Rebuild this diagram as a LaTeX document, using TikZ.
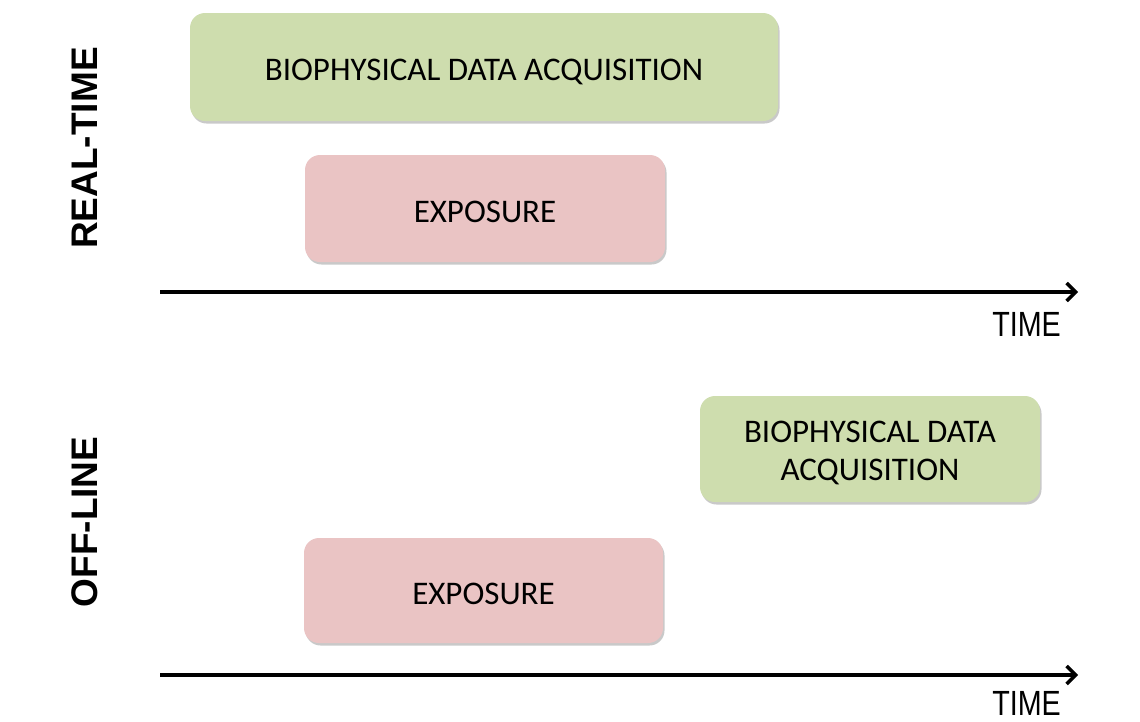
\documentclass[tikz,border=0pt]{standalone}
\usepackage{fontspec}
\setmainfont{Carlito}
\newfontfamily\arialfont{Liberation Sans}
\usetikzlibrary{shadows,arrows.meta}
\definecolor{boxgreen}{HTML}{CEDDAE}
\definecolor{boxpink}{HTML}{EAC4C4}
\begin{document}
\begin{tikzpicture}[x=1pt,y=-1pt,
  boxbase/.style={rounded corners=15pt, draw=none, inner sep=0pt,
    drop shadow={shadow xshift=1.5pt, shadow yshift=-2.5pt, opacity=0.3, fill=black!70}},
  greenbox/.style={boxbase, fill=boxgreen},
  pinkbox/.style={boxbase, fill=boxpink},
  boxtext/.style={inner sep=0pt, align=center, font=\fontsize{33}{38}\selectfont},
  timearrow/.style={line width=3.5pt, -{Straight Barb[length=9pt,width=18pt]}},
  timelabel/.style={anchor=base east, inner sep=0pt, text depth=0pt, font=\arialfont\fontsize{35}{40}\selectfont},
  sidelabel/.style={rotate=90, inner sep=0pt, font=\arialfont\bfseries\fontsize{37}{40}\selectfont}]
\useasboundingbox (0,0) rectangle (1140,721);
% real-time
\node[greenbox, minimum width=588pt, minimum height=108pt] (bio1) at (484,67) {};
\node[boxtext] (bio1t) at ([yshift=-4.5pt]bio1.center) {BIOPHYSICAL DATA ACQUISITION};
\node[pinkbox, minimum width=360pt, minimum height=107pt] (exp1) at (485,208.5) {};
\node[boxtext] (exp1t) at ([yshift=-3pt]exp1.center) {EXPOSURE};
\coordinate (a1s) at (160,292);
\coordinate (a1e) at (1078,292);
\draw[timearrow] (a1s) -- (a1e);
\node[timelabel] (t1) at (1061,336) {\scalebox{0.82}[1]{TIME}};
\node[sidelabel] (rt) at (85,148) {REAL-TIME};
% off-line
\node[greenbox, minimum width=340pt, minimum height=106pt] (bio2) at (870,449) {};
\node[boxtext] (bio2t) at ([yshift=-4pt]bio2.center) {BIOPHYSICAL DATA\\ACQUISITION};
\node[pinkbox, minimum width=359pt, minimum height=105pt] (exp2) at (483.5,590.5) {};
\node[boxtext] (exp2t) at ([yshift=-3pt]exp2.center) {EXPOSURE};
\coordinate (a2s) at (160,675);
\coordinate (a2e) at (1078,675);
\draw[timearrow] (a2s) -- (a2e);
\node[timelabel] (t2) at (1061,715.5) {\scalebox{0.82}[1]{TIME}};
\node[sidelabel] (ol) at (85,522) {OFF-LINE};
\end{tikzpicture}
\end{document}
